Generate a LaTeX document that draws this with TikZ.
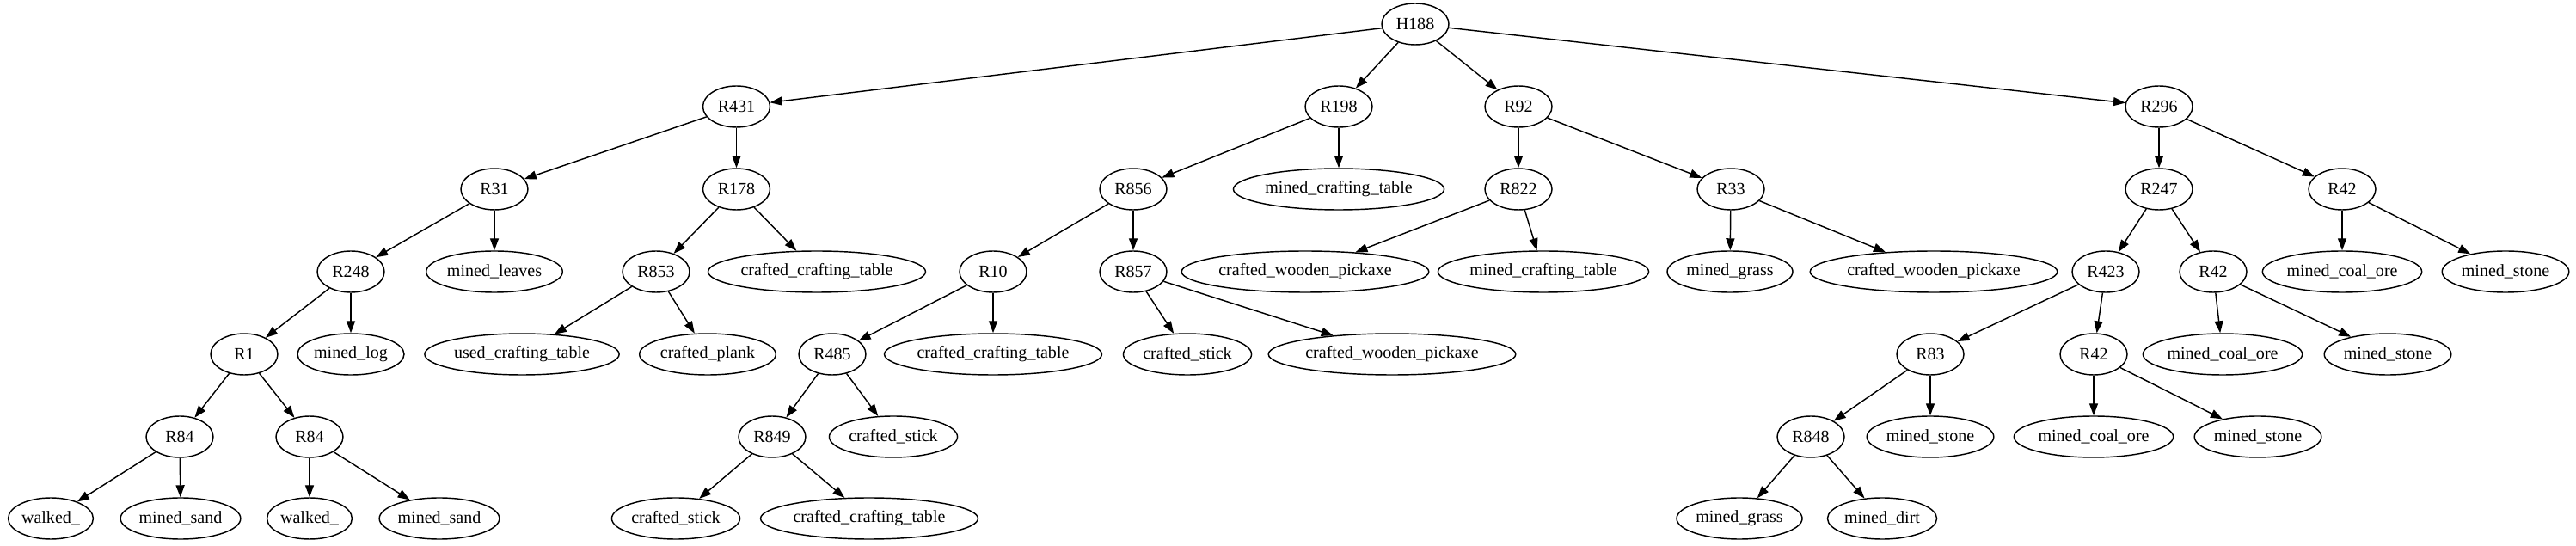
\documentclass[tikz,border=0pt]{standalone}
\usepackage{fontspec}
\setmainfont{Liberation Serif}
\usetikzlibrary{shapes.geometric,arrows.meta}

\begin{document}
\begin{tikzpicture}[
        nd/.style={ellipse, draw, line width=0.41pt, inner xsep=0.01cm, inner ysep=0pt,
                   minimum width=0.78cm, minimum height=0.48cm, font=\fontsize{5.7}{6.8}\selectfont},
        e/.style={line width=0.41pt, -{Triangle[length=0.14cm,width=0.10cm]}}
    ]
        \useasboundingbox (0,0) rectangle (29.96,6.35);
        % level 0 and 1
        \node[nd] (h188) at (16.46,6.07) {H188};
        \node[nd] (r431) at (8.565,5.11) {R431};
        \node[nd] (r198) at (15.57,5.11) {R198};
        \node[nd] (r92)  at (17.66,5.11) {R92};
        \node[nd] (r296) at (25.11,5.11) {R296};
        % level 2
        \node[nd] (r31)  at (5.75,4.15)  {R31};
        \node[nd] (r178) at (8.565,4.15) {R178};
        \node[nd] (r856) at (13.18,4.15) {R856};
        \node[nd] (mct1) at (15.57,4.15) {mined\_crafting\_table};
        \node[nd] (r822) at (17.66,4.15) {R822};
        \node[nd] (r33)  at (20.13,4.15) {R33};
        \node[nd] (r247) at (25.11,4.15) {R247};
        \node[nd] (r42a) at (27.24,4.15) {R42};
        % level 3
        \node[nd] (r248)   at (4.08,3.19)  {R248};
        \node[nd] (leaves) at (5.75,3.19)  {mined\_leaves};
        \node[nd] (r853)   at (7.63,3.19)  {R853};
        \node[nd] (cct1)   at (9.50,3.19)  {crafted\_crafting\_table};
        \node[nd] (r10)    at (11.55,3.19) {R10};
        \node[nd] (r857)   at (13.18,3.19) {R857};
        \node[nd] (cwp1)   at (15.18,3.19) {crafted\_wooden\_pickaxe};
        \node[nd] (mct2)   at (17.95,3.19) {mined\_crafting\_table};
        \node[nd] (grass1) at (20.12,3.19) {mined\_grass};
        \node[nd] (cwp2)   at (22.49,3.19) {crafted\_wooden\_pickaxe};
        \node[nd] (r423)   at (24.49,3.19) {R423};
        \node[nd] (r42b)   at (25.74,3.19) {R42};
        \node[nd] (coal1)  at (27.24,3.19) {mined\_coal\_ore};
        \node[nd] (stone1) at (29.14,3.19) {mined\_stone};
        % level 4
        \node[nd] (r1)     at (2.84,2.23)  {R1};
        \node[nd] (log)    at (4.08,2.23)  {mined\_log};
        \node[nd] (uct)    at (6.07,2.23)  {used\_crafting\_table};
        \node[nd] (plank)  at (8.23,2.23)  {crafted\_plank};
        \node[nd] (r485)   at (9.68,2.23)  {R485};
        \node[nd] (cct2)   at (11.55,2.23) {crafted\_crafting\_table};
        \node[nd] (stick1) at (13.81,2.23) {crafted\_stick};
        \node[nd] (cwp3)   at (16.19,2.23) {crafted\_wooden\_pickaxe};
        \node[nd] (r83)    at (22.45,2.23) {R83};
        \node[nd] (r42c)   at (24.35,2.23) {R42};
        \node[nd] (coal2)  at (25.85,2.23) {mined\_coal\_ore};
        \node[nd] (stone2) at (27.77,2.23) {mined\_stone};
        % level 5
        \node[nd] (r84a)   at (2.09,1.27)  {R84};
        \node[nd] (r84b)   at (3.60,1.27)  {R84};
        \node[nd] (r849)   at (8.98,1.27)  {R849};
        \node[nd] (stick2) at (10.39,1.27) {crafted\_stick};
        \node[nd] (r848)   at (21.06,1.27) {R848};
        \node[nd] (stone3) at (22.45,1.27) {mined\_stone};
        \node[nd] (coal3)  at (24.35,1.27) {mined\_coal\_ore};
        \node[nd] (stone4) at (26.26,1.27) {mined\_stone};
        % level 6
        \node[nd] (walka)  at (0.59,0.32)  {walked\_};
        \node[nd] (sanda)  at (2.10,0.32)  {mined\_sand};
        \node[nd] (walkb)  at (3.60,0.32)  {walked\_};
        \node[nd] (sandb)  at (5.11,0.32)  {mined\_sand};
        \node[nd] (stick3) at (7.86,0.32)  {crafted\_stick};
        \node[nd] (cct3)   at (10.11,0.32) {crafted\_crafting\_table};
        \node[nd] (grass2) at (20.23,0.32) {mined\_grass};
        \node[nd] (dirt)   at (21.89,0.32) {mined\_dirt};

        % edges
        \draw[e] (h188) -- (r431); \draw[e] (h188) -- (r198); \draw[e] (h188) -- (r92); \draw[e] (h188) -- (r296);
        \draw[e] (r431) -- (r31);  \draw[e] (r431) -- (r178);
        \draw[e] (r31) -- (r248);  \draw[e] (r31) -- (leaves);
        \draw[e] (r248) -- (r1);   \draw[e] (r248) -- (log);
        \draw[e] (r1) -- (r84a);   \draw[e] (r1) -- (r84b);
        \draw[e] (r84a) -- (walka); \draw[e] (r84a) -- (sanda);
        \draw[e] (r84b) -- (walkb); \draw[e] (r84b) -- (sandb);
        \draw[e] (r178) -- (r853); \draw[e] (r178) -- (cct1);
        \draw[e] (r853) -- (uct);  \draw[e] (r853) -- (plank);
        \draw[e] (r198) -- (r856); \draw[e] (r198) -- (mct1);
        \draw[e] (r856) -- (r10);  \draw[e] (r856) -- (r857);
        \draw[e] (r10) -- (r485);  \draw[e] (r10) -- (cct2);
        \draw[e] (r485) -- (r849); \draw[e] (r485) -- (stick2);
        \draw[e] (r849) -- (stick3); \draw[e] (r849) -- (cct3);
        \draw[e] (r857) -- (stick1); \draw[e] (r857) -- (cwp3);
        \draw[e] (r92) -- (r822);  \draw[e] (r92) -- (r33);
        \draw[e] (r822) -- (cwp1); \draw[e] (r822) -- (mct2);
        \draw[e] (r33) -- (grass1); \draw[e] (r33) -- (cwp2);
        \draw[e] (r296) -- (r247); \draw[e] (r296) -- (r42a);
        \draw[e] (r42a) -- (coal1); \draw[e] (r42a) -- (stone1);
        \draw[e] (r247) -- (r423); \draw[e] (r247) -- (r42b);
        \draw[e] (r42b) -- (coal2); \draw[e] (r42b) -- (stone2);
        \draw[e] (r423) -- (r83);  \draw[e] (r423) -- (r42c);
        \draw[e] (r83) -- (r848);  \draw[e] (r83) -- (stone3);
        \draw[e] (r42c) -- (coal3); \draw[e] (r42c) -- (stone4);
        \draw[e] (r848) -- (grass2); \draw[e] (r848) -- (dirt);
    \end{tikzpicture}
\end{document}
